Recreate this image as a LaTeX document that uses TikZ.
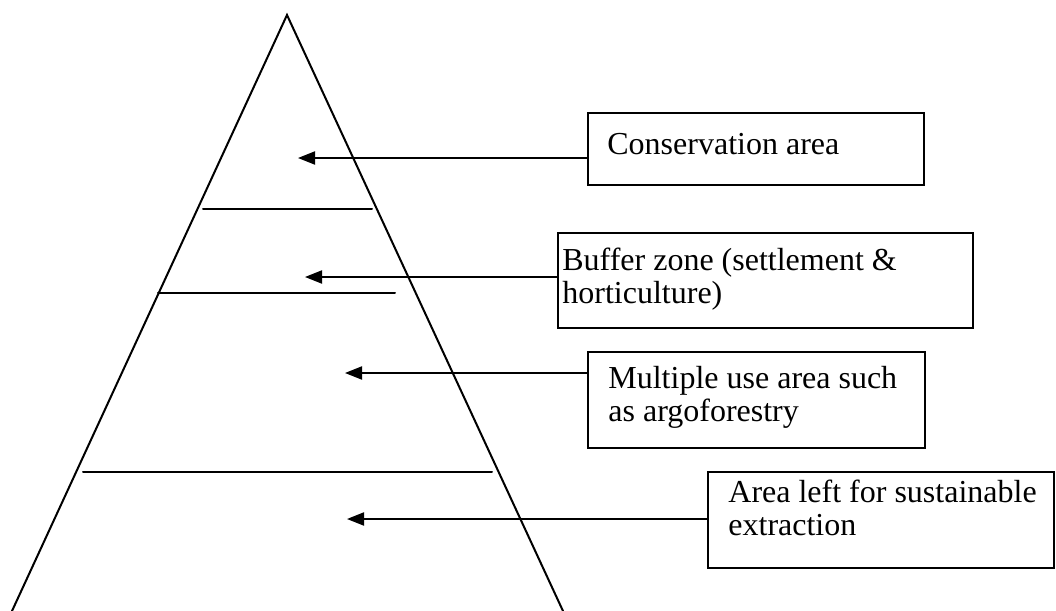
\documentclass[tikz,border=0pt]{standalone}
\usepackage{fontspec}
\setmainfont{Liberation Serif}
\usetikzlibrary{arrows.meta}
\begin{document}
\begin{tikzpicture}[x=0.5pt,y=-0.5pt,
  edge/.style={line width=1pt,line cap=round},
  boxst/.style={draw,line width=1pt,rectangle,inner sep=0pt,anchor=north west},
  lbl/.style={anchor=base west,inner sep=0pt,font=\fontsize{16}{16.5}\selectfont},
  arr/.style={line width=1pt,-{Triangle[length=8.5pt,width=6.5pt]}}]
\useasboundingbox (0,0) rectangle (1056,611);
% pyramid
\coordinate (apex) at (287,15);
\coordinate (bl) at (12,611);
\coordinate (br) at (563,611);
\draw[edge] (bl) -- (apex) -- (br);
% dividing lines
\coordinate (l1a) at (203,209); \coordinate (l1b) at (372,209);
\coordinate (l2a) at (158,293); \coordinate (l2b) at (395,293);
\coordinate (l3a) at (83,472);  \coordinate (l3b) at (492,472);
\draw[edge] (l1a) -- (l1b);
\draw[edge] (l2a) -- (l2b);
\draw[edge] (l3a) -- (l3b);
% boxes
\node[boxst,minimum width=168pt,minimum height=36pt] (b1) at (587,112) {};
\node[boxst,minimum width=207.5pt,minimum height=47.5pt] (b2) at (557,232) {};
\node[boxst,minimum width=168.5pt,minimum height=48pt] (b3) at (587,351) {};
\node[boxst,minimum width=173pt,minimum height=48pt] (b4) at (707,471) {};
% labels
\node[lbl] (t1) at (607,154) {Conservation area};
\node[lbl] (t2) at (562,270) {\begin{tabular}[t]{@{}l@{}}Buffer zone (settlement \&\\horticulture)\end{tabular}};
\node[lbl] (t3) at (608,388) {\begin{tabular}[t]{@{}l@{}}Multiple use area such\\as argoforestry\end{tabular}};
\node[lbl] (t4) at (728,502) {\begin{tabular}[t]{@{}l@{}}Area left for sustainable\\extraction\end{tabular}};
% arrow tips
\coordinate (a1) at (298,158);
\coordinate (a2) at (305,277);
\coordinate (a3) at (345,373);
\coordinate (a4) at (347,519);
\draw[arr] (b1.west |- a1) -- (a1);
\draw[arr] (b2.west |- a2) -- (a2);
\draw[arr] (b3.west |- a3) -- (a3);
\draw[arr] (b4.west |- a4) -- (a4);
\end{tikzpicture}
\end{document}
